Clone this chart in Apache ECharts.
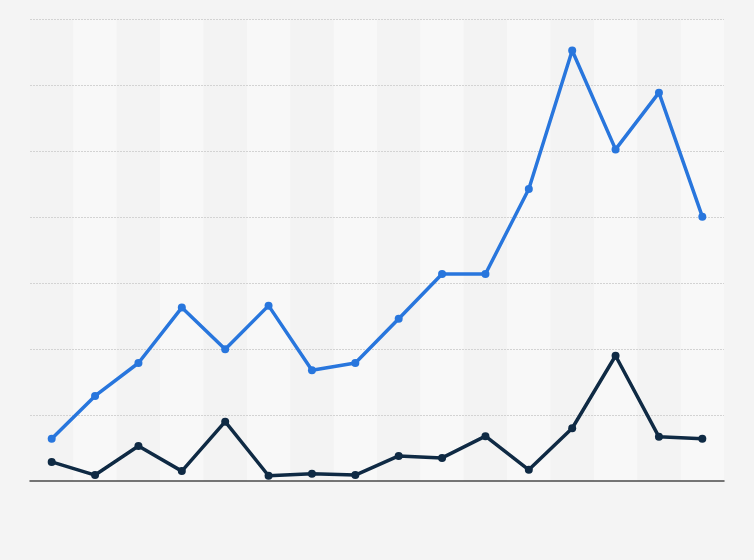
<!DOCTYPE html>
<html>
<head>
<meta charset="utf-8">
<script src="https://cdn.jsdelivr.net/npm/echarts@6/dist/echarts.min.js"></script>
<style>
html,body{margin:0;padding:0;background:#f4f4f4;}
#chart{width:754px;height:560px;}
</style>
</head>
<body>
<div id="chart"></div>
<script>
const categories = ['1','2','3','4','5','6','7','8','9','10','11','12','13','14','15','16'];
const seriesBlue = [0.64, 1.29, 1.79, 2.63, 2.00, 2.66, 1.68, 1.79, 2.46, 3.14, 3.14, 4.43, 6.53, 5.03, 5.89, 4.01];
const seriesDark = [0.29, 0.09, 0.53, 0.15, 0.90, 0.08, 0.11, 0.09, 0.38, 0.35, 0.68, 0.17, 0.80, 1.90, 0.67, 0.64];
const yTicks = [0, 1, 2, 3, 4, 5, 6, 7];

const chart = echarts.init(document.getElementById('chart'));
chart.setOption({
  backgroundColor: '#f4f4f4',
  animation: false,
  grid: { left: 30, right: 30, top: 19.5, bottom: 79 },
  xAxis: {
    type: 'category',
    data: categories,
    boundaryGap: true,
    axisLine: { lineStyle: { color: '#4a4a4a', width: 1.5 } },
    axisTick: { show: false },
    axisLabel: { show: false },
    splitArea: { show: true, areaStyle: { color: ['#f3f3f3', '#f8f8f8'] } },
    z: 1
  },
  yAxis: {
    type: 'value',
    min: yTicks[0],
    max: yTicks[yTicks.length - 1],
    interval: 1,
    axisLine: { show: false },
    axisTick: { show: false },
    axisLabel: { show: false },
    splitLine: { showMinLine: false, lineStyle: { color: '#d3d3d3', type: [2, 1], width: 1 } },
    z: 2
  },
  series: [
    {
      type: 'line',
      data: seriesBlue,
      symbol: 'circle',
      symbolSize: 8,
      lineStyle: { color: '#2876dd', width: 3.5 },
      itemStyle: { color: '#2876dd' },
      z: 3
    },
    {
      type: 'line',
      data: seriesDark,
      symbol: 'circle',
      symbolSize: 8,
      lineStyle: { color: '#0f2a44', width: 3.5 },
      itemStyle: { color: '#0f2a44' },
      z: 4
    }
  ]
});
</script>
</body>
</html>
